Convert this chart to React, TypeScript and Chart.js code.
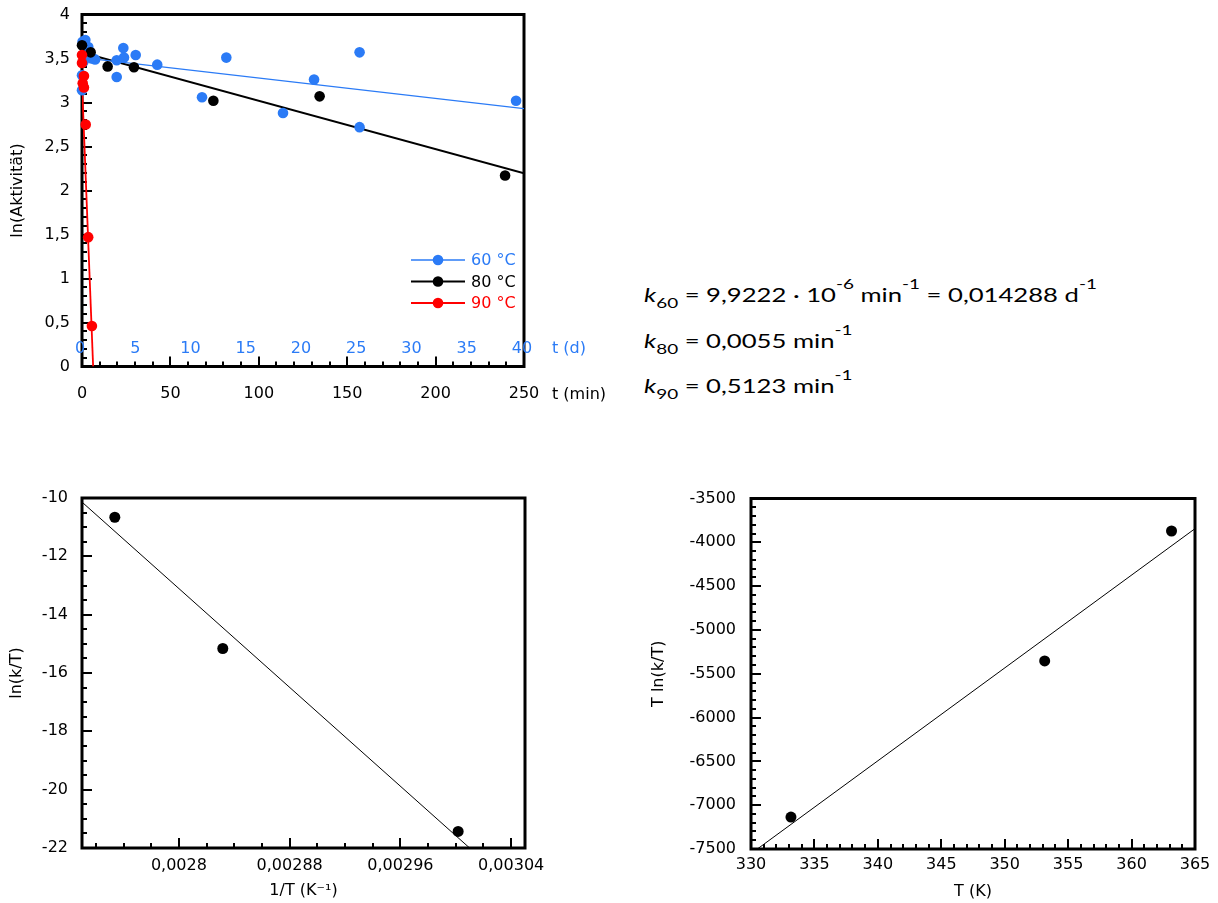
import React, { useEffect, useRef } from "react";
import { Chart, registerables } from "chart.js";

Chart.register(...registerables);

const FONT = "'DejaVu Sans', 'Liberation Sans', Arial, sans-serif";
const FS = 16;
const BLUE = "#2b7bf6";
const RED = "#ff0000";
const BLACK = "#000000";

// ---------- Top chart: ln(Aktivität) vs time ----------
// 60 °C series (time in days, secondary axis)
const blueDays = [0, 0, 0.12, 0.05, 0.3, 0.57, 0.88, 1.18, 3.14, 3.14, 3.74, 3.8, 4.86, 6.81, 10.86, 13.06, 18.19, 21.0, 25.12, 25.12, 39.28];
const blueLnA = [3.14, 3.31, 3.46, 3.69, 3.71, 3.63, 3.5, 3.49, 3.48, 3.29, 3.62, 3.51, 3.54, 3.43, 3.06, 3.51, 2.88, 3.26, 3.57, 2.72, 3.02];
// 80 °C series (time in minutes)
const blackMin = [0, 4.9, 14.5, 29.4, 74.3, 134.4, 239.3];
const blackLnA = [3.65, 3.57, 3.41, 3.4, 3.02, 3.07, 2.17];
// 90 °C series (time in minutes)
const redMin = [0, 0, 1.1, 0.4, 1.1, 2.1, 3.5, 5.6];
const redLnA = [3.54, 3.45, 3.3, 3.22, 3.17, 2.75, 1.47, 0.46];
// fitted lines
const blueFitDays = [0, 40];
const blueFitLnA = [3.51, 2.93];
const blackFitMin = [0, 250];
const blackFitLnA = [3.57, 2.195];
const redFitMin = [0, 6.3];
const redFitLnA = [3.22, 0];

const minuteTicks = [0, 50, 100, 150, 200, 250];
const minuteLabels = ["0", "50", "100", "150", "200", "250"];
const dayTicks = [0, 5, 10, 15, 20, 25, 30, 35, 40];
const dayLabels = ["0", "5", "10", "15", "20", "25", "30", "35", "40"];
const lnATicks = [0, 0.5, 1, 1.5, 2, 2.5, 3, 3.5, 4];
const lnALabels = ["0", "0,5", "1", "1,5", "2", "2,5", "3", "3,5", "4"];
const legendLabels = ["60 °C", "80 °C", "90 °C"];
const topTitles = { y: "ln(Aktivität)", xMin: "t (min)", xDay: "t (d)" };

// ---------- Bottom left: ln(k/T) vs 1/T ----------
const invT = [0.0027537, 0.0028317, 0.0030017];
const lnKT = [-10.66, -15.16, -21.43];
const invTFit = [0.00273, 0.00301];
const lnKTFit = [-10.14, -22.0];
const invTTicks = [0.0028, 0.00288, 0.00296, 0.00304];
const invTLabels = ["0,0028", "0,00288", "0,00296", "0,00304"];
const invTMinor = [0.00274, 0.00276, 0.00278, 0.00282, 0.00284, 0.00286, 0.0029, 0.00292, 0.00294, 0.00298, 0.003, 0.00302];
const lnKTTicks = [-22, -20, -18, -16, -14, -12, -10];
const lnKTLabels = ["-22", "-20", "-18", "-16", "-14", "-12", "-10"];

// ---------- Bottom right: T ln(k/T) vs T ----------
const tempK = [333.15, 353.15, 363.15];
const tLnKT = [-7136, -5354, -3871];
const tempFit = [330.5, 365];
const tLnKTFit = [-7500, -3844];
const tempTicks = [330, 335, 340, 345, 350, 355, 360, 365];
const tempLabels = ["330", "335", "340", "345", "350", "355", "360", "365"];
const tLnTicks = [-7500, -7000, -6500, -6000, -5500, -5000, -4500, -4000, -3500];
const tLnLabels = ["-7500", "-7000", "-6500", "-6000", "-5500", "-5000", "-4500", "-4000", "-3500"];

function minorRange(start: number, end: number, step: number, majorStep: number) {
  const out: number[] = [];
  const n = Math.round((end - start) / step);
  for (let i = 0; i <= n; i++) {
    const v = start + i * step;
    const r = v / majorStep;
    if (Math.abs(r - Math.round(r)) > 1e-6) out.push(+v.toFixed(10));
  }
  return out;
}

type TickSpec = { xMajor: number[]; xMinor: number[]; yMajor: number[]; yMinor: number[] };

function frameTicksPlugin(spec: TickSpec) {
  return {
    id: "frameTicks",
    beforeDatasetsDraw(chart: any) {
      const { ctx, chartArea: a } = chart;
      const xs = chart.scales.x;
      const ys = chart.scales.y;
      ctx.save();
      ctx.strokeStyle = "#000";
      ctx.lineWidth = 2;
      ctx.beginPath();
      const tx = (vals: number[], len: number) =>
        vals.forEach((v) => {
          const p = Math.round(xs.getPixelForValue(v));
          ctx.moveTo(p, a.bottom);
          ctx.lineTo(p, a.bottom - len);
        });
      const ty = (vals: number[], len: number) =>
        vals.forEach((v) => {
          const p = Math.round(ys.getPixelForValue(v));
          ctx.moveTo(a.left, p);
          ctx.lineTo(a.left + len, p);
        });
      tx(spec.xMajor, 10);
      tx(spec.xMinor, 5);
      ty(spec.yMajor, 10);
      ty(spec.yMinor, 5);
      ctx.stroke();
      ctx.lineWidth = 3;
      ctx.strokeRect(a.left, a.top, a.right - a.left, a.bottom - a.top);
      ctx.restore();
    },
  };
}

function axisX(o: { min: number; max: number; ticks: number[]; labels: string[]; height: number; padding: number; title?: string; titlePad?: number }) {
  return {
    type: "linear",
    position: "bottom",
    min: o.min,
    max: o.max,
    grid: { display: false, drawTicks: false },
    border: { display: false },
    ticks: {
      autoSkip: false,
      maxRotation: 0,
      minRotation: 0,
      padding: o.padding,
      color: "#000",
      font: { family: FONT, size: FS },
      callback: (_v: any, i: number) => o.labels[i],
    },
    afterBuildTicks: (s: any) => {
      s.ticks = o.ticks.map((v) => ({ value: v }));
    },
    afterFit: (s: any) => {
      s.height = o.height;
      s.paddingLeft = 0;
      s.paddingRight = 0;
    },
    title: o.title
      ? { display: true, text: o.title, color: "#000", font: { family: FONT, size: FS }, padding: { top: 0, bottom: o.titlePad ?? 3 } }
      : { display: false },
  };
}

function axisY(o: { min: number; max: number; ticks: number[]; labels: string[]; width: number; padding: number; title?: string; titlePad?: number }) {
  return {
    type: "linear",
    position: "left",
    min: o.min,
    max: o.max,
    grid: { display: false, drawTicks: false },
    border: { display: false },
    ticks: {
      autoSkip: false,
      padding: o.padding,
      color: "#000",
      font: { family: FONT, size: FS },
      callback: (_v: any, i: number) => o.labels[i],
    },
    afterBuildTicks: (s: any) => {
      s.ticks = o.ticks.map((v) => ({ value: v }));
    },
    afterFit: (s: any) => {
      s.width = o.width;
      s.paddingTop = 0;
      s.paddingBottom = 0;
    },
    title: o.title
      ? { display: true, text: o.title, color: "#000", font: { family: FONT, size: FS }, padding: { top: o.titlePad ?? 8, bottom: 0 } }
      : { display: false },
  };
}

const pts = (xs: number[], ys: number[]) => xs.map((x, i) => ({ x, y: ys[i] }));

function pointSet(xs: number[], ys: number[], color: string, order: number, xAxisID = "x", r = 5.3) {
  return {
    data: pts(xs, ys),
    xAxisID,
    yAxisID: "y",
    showLine: false,
    pointRadius: r,
    pointBorderWidth: 0,
    pointBackgroundColor: color,
    pointBorderColor: color,
    clip: false,
    order,
  };
}

function lineSet(xs: number[], ys: number[], color: string, width: number, xAxisID = "x") {
  return {
    data: pts(xs, ys),
    xAxisID,
    yAxisID: "y",
    showLine: true,
    borderColor: color,
    borderWidth: width,
    pointRadius: 0,
    tension: 0,
    fill: false,
    order: 10,
  };
}

const baseOptions = {
  responsive: false,
  animation: false,
  devicePixelRatio: 1,
  events: [],
  plugins: { legend: { display: false }, tooltip: { enabled: false } },
};

const legendStyles = [
  { color: BLUE, width: 1.3 },
  { color: BLACK, width: 2 },
  { color: RED, width: 1.8 },
];

function buildTop(): any {
  const spec: TickSpec = {
    xMajor: minuteTicks,
    xMinor: minorRange(0, 250, 10, 50),
    yMajor: lnATicks,
    yMinor: minorRange(0, 4, 0.1, 0.5),
  };
  const extras = {
    id: "topExtras",
    afterDraw(chart: any) {
      const { ctx, chartArea: a } = chart;
      const xd = chart.scales.xd;
      ctx.save();
      ctx.font = `${FS}px ${FONT}`;
      ctx.textBaseline = "middle";
      ctx.fillStyle = BLUE;
      ctx.textAlign = "center";
      dayTicks.forEach((d, i) => ctx.fillText(dayLabels[i], xd.getPixelForValue(d) - 2, a.bottom - 17.5));
      ctx.textAlign = "left";
      ctx.fillText(topTitles.xDay, a.right + 28, a.bottom - 17.5);
      ctx.fillStyle = "#000";
      ctx.fillText(topTitles.xMin, a.right + 28, a.bottom + 28);
      // legend
      legendLabels.forEach((lab, i) => {
        const st = legendStyles[i];
        const y = a.top + 245.5 + i * 21.5;
        ctx.strokeStyle = st.color;
        ctx.lineWidth = st.width;
        ctx.beginPath();
        ctx.moveTo(a.right - 113, y);
        ctx.lineTo(a.right - 59, y);
        ctx.stroke();
        ctx.fillStyle = st.color;
        ctx.beginPath();
        ctx.arc(a.right - 86, y, 5.3, 0, Math.PI * 2);
        ctx.fill();
        ctx.fillText(lab, a.right - 53, y + 1);
      });
      ctx.restore();
    },
  };
  return {
    type: "scatter",
    data: {
      datasets: [
        pointSet(redMin, redLnA, RED, 0),
        pointSet(blackMin, blackLnA, BLACK, 1),
        pointSet(blueDays, blueLnA, BLUE, 2, "xd"),
        lineSet(blueFitDays, blueFitLnA, BLUE, 1.3, "xd"),
        lineSet(blackFitMin, blackFitLnA, BLACK, 2),
        lineSet(redFitMin, redFitLnA, RED, 1.8),
      ],
    },
    options: {
      ...baseOptions,
      layout: { padding: { left: 0, top: 14.5, right: 96, bottom: 0 } },
      scales: {
        x: axisX({ min: 0, max: 250, ticks: minuteTicks, labels: minuteLabels, height: 53.5, padding: 18 }),
        xd: { type: "linear", display: false, min: 0, max: 40 },
        y: axisY({ min: 0, max: 4, ticks: lnATicks, labels: lnALabels, width: 82, padding: 12, title: topTitles.y, titlePad: 8.4 }),
      },
    },
    plugins: [frameTicksPlugin(spec), extras],
  };
}

function buildInv(): any {
  const spec: TickSpec = {
    xMajor: invTTicks,
    xMinor: invTMinor,
    yMajor: lnKTTicks,
    yMinor: minorRange(-22, -10, 0.5, 2),
  };
  return {
    type: "scatter",
    data: {
      datasets: [pointSet(invT, lnKT, BLACK, 0, "x", 5.5), lineSet(invTFit, lnKTFit, BLACK, 1)],
    },
    options: {
      ...baseOptions,
      layout: { padding: { left: 0, top: 48, right: 95, bottom: 0 } },
      scales: {
        x: axisX({ min: 0.00273, max: 0.00305, ticks: invTTicks, labels: invTLabels, height: 55, padding: 8.4, title: "1/T (K\u207B\u00B9)", titlePad: 2.4 }),
        y: axisY({ min: -22, max: -10, ticks: lnKTTicks, labels: lnKTLabels, width: 82, padding: 14, title: "ln(k/T)", titlePad: 7.4 }),
      },
    },
    plugins: [frameTicksPlugin(spec)],
  };
}

function buildT(): any {
  const spec: TickSpec = {
    xMajor: tempTicks,
    xMinor: minorRange(330, 365, 1, 5),
    yMajor: tLnTicks,
    yMinor: minorRange(-7500, -3500, 100, 500),
  };
  return {
    type: "scatter",
    data: {
      datasets: [pointSet(tempK, tLnKT, BLACK, 0, "x", 5.5), lineSet(tempFit, tLnKTFit, BLACK, 1)],
    },
    options: {
      ...baseOptions,
      layout: { padding: { left: 0, top: 48.5, right: 23, bottom: 0 } },
      scales: {
        x: axisX({ min: 330, max: 365, ticks: tempTicks, labels: tempLabels, height: 54, padding: 6, title: "T (K)", titlePad: 1.4 }),
        y: axisY({ min: -7500, max: -3500, ticks: tLnTicks, labels: tLnLabels, width: 131, padding: 15, title: "T ln(k/T)", titlePad: 29.4 }),
      },
    },
    plugins: [frameTicksPlugin(spec)],
  };
}

function ChartCanvas(props: { left: number; top: number; width: number; height: number; build: () => any }) {
  const ref = useRef<HTMLCanvasElement>(null);
  useEffect(() => {
    const chart = new Chart(ref.current as HTMLCanvasElement, props.build());
    return () => chart.destroy();
  }, []);
  return (
    <canvas
      ref={ref}
      width={props.width}
      height={props.height}
      style={{ position: "absolute", left: props.left, top: props.top, width: props.width, height: props.height }}
    />
  );
}

// ---------- Rate constants text ----------
const kSubs = ["60", "80", "90"];
const eqBaselines = [302.7, 348.7, 393.2];
const EQ_FS = 19;

const Sub = ({ children }: { children: any }) => (
  <span style={{ fontSize: 14, position: "relative", top: 6 }}>{children}</span>
);
const Sup = ({ children }: { children: any }) => (
  <span style={{ fontSize: 14, position: "relative", top: -13 }}>{children}</span>
);
const K = ({ sub }: { sub: string }) => (
  <>
    <i>k</i>
    <Sub>{sub}</Sub>
  </>
);

function Equations() {
  const lineStyle = (i: number): React.CSSProperties => ({
    position: "absolute",
    left: 644,
    top: eqBaselines[i] - 17.3,
    fontFamily: "Lato, 'Open Sans', sans-serif",
    fontSize: EQ_FS,
    lineHeight: "20px",
    whiteSpace: "nowrap",
    color: "#000",
    transform: "scaleX(1.35)",
    transformOrigin: "0 0",
  });
  return (
    <>
      <div style={lineStyle(0)}>
        <K sub={kSubs[0]} /> = 9,9222 · 10<Sup>-6</Sup> min<Sup>-1</Sup> = 0,014288 d<Sup>-1</Sup>
      </div>
      <div style={lineStyle(1)}>
        <K sub={kSubs[1]} /> = 0,0055 min<Sup>-1</Sup>
      </div>
      <div style={lineStyle(2)}>
        <K sub={kSubs[2]} /> = 0,5123 min<Sup>-1</Sup>
      </div>
    </>
  );
}

export default function App() {
  return (
    <div style={{ position: "fixed", left: 0, top: 0, width: 1218, height: 903, background: "#fff", overflow: "hidden" }}>
      <ChartCanvas left={0} top={0} width={620} height={420} build={buildTop} />
      <ChartCanvas left={0} top={450} width={620} height={453} build={buildInv} />
      <ChartCanvas left={620} top={450} width={598} height={453} build={buildT} />
      <Equations />
    </div>
  );
}
